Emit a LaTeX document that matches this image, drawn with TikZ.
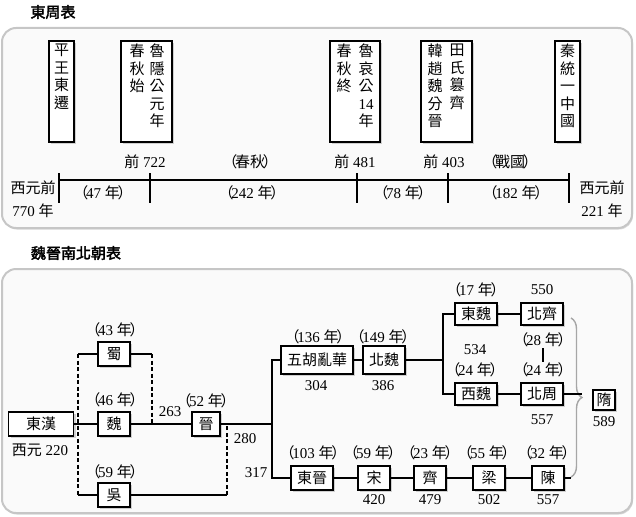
\documentclass[tikz,border=0pt]{standalone}
\usepackage{fontspec}
\usetikzlibrary{shadows,decorations.pathreplacing}
\setmainfont{Liberation Serif}
\newfontfamily\cjk{Noto Sans CJK TC}
\newfontfamily\cjkbold[FakeBold=2.5]{Noto Sans CJK TC}
\newcommand{\hanfont}{\cjk}

% Chinese characters go to the CJK font, digits stay in the serif
\XeTeXinterchartokenstate=1
\newXeTeXintercharclass\hanclass
\newcount\hancount
\hancount="4E00
\loop
  \XeTeXcharclass\hancount=\hanclass
  \advance\hancount by 1
\ifnum\hancount<"A000 \repeat
\XeTeXcharclass"FF08=\hanclass
\XeTeXcharclass"FF09=\hanclass
\XeTeXinterchartoks 0 \hanclass={\hanfont}
\XeTeXinterchartoks 4095 \hanclass={\hanfont}
\XeTeXinterchartoks \hanclass 0={\rmfamily}
\XeTeXinterchartoks \hanclass 4095={\rmfamily}

\newcommand{\paren}[1]{（\kern-.15em#1\kern-.15em）}
\newcommand{\yrs}[1]{\paren{#1 年}}
\newcommand{\titlefont}{\renewcommand{\hanfont}{\cjkbold}\fontsize{15}{18}\selectfont}

\tikzset{
  frame/.style={draw=gray!45, line width=2pt, fill=gray!4, rounded corners=14pt,
    drop shadow={shadow xshift=1pt, shadow yshift=-1.5pt, opacity=.3}},
  box/.style={draw, line width=1.4pt, fill=white, minimum width=32, minimum height=24,
    inner xsep=6pt, inner ysep=2pt,
    drop shadow={shadow xshift=2pt, shadow yshift=-2pt, opacity=.35}},
  vbox/.style={box, minimum height=101, inner sep=0pt},
  vtext/.style={anchor=north, align=center, inner sep=0pt},
  title/.style={font=\titlefont},
  link/.style={line width=2pt},
  dlink/.style={link, dash pattern=on 4pt off 2.5pt},
  axis/.style={line width=2.6pt},
  bigbrace/.style={decorate, decoration={brace, amplitude=11pt}, draw=gray!70, line width=1.4pt}
}

\begin{document}
\begin{tikzpicture}[x=1pt, y=-1pt,
  every node/.style={font=\fontsize{15}{17.5}\selectfont, inner sep=1pt}]
\useasboundingbox (0,0) rectangle (636,516);

% ---- east zhou ----
\node[title] (t1) at (53,12) {東周表};
\draw[frame] (2,28) rectangle (632,228);

\node[vbox, minimum width=25] (b1) at (61.5,91.5) {};
\node[vtext] (b1r) at (61.5,44) {平\\王\\東\\遷};
\node[vbox, minimum width=51] (b2) at (146.5,91.5) {};
\node[vtext] (b2r) at (157,44) {魯\\隱\\公\\元\\年};
\node[vtext] (b2l) at (137,44) {春\\秋\\始};
\node[vbox, minimum width=50] (b3) at (355,91.5) {};
\node[vtext] (b3r) at (366,44) {魯\\哀\\公\\14\\年};
\node[vtext] (b3l) at (344,44) {春\\秋\\終};
\node[vbox, minimum width=51] (b4) at (446.5,91.5) {};
\node[vtext] (b4r) at (457,44) {田\\氏\\篡\\齊};
\node[vtext] (b4l) at (435,44) {韓\\趙\\魏\\分\\晉};
\node[vbox, minimum width=25] (b5) at (567.5,91.5) {};
\node[vtext] (b5r) at (567.5,44) {秦\\統\\一\\中\\國};

% the time line
\foreach \x [count=\i] in {59,150,357,448,569}
  \coordinate (k\i) at (\x,180);
\draw[axis] (k1) -- (k5);
\foreach \i in {1,...,5}
  \draw[axis] ([yshift=7pt]k\i) -- ([yshift=-23pt]k\i);

\node[align=center, font=\fontsize{15}{23}\selectfont] (s0) at (33,199) {西元前\\770 年};
\node[align=center, font=\fontsize{15}{23}\selectfont] (s5) at (602,199) {西元前\\221 年};
\node (d1) at (145,162) {前 722};
\node (d3) at (355,162) {前 481};
\node (d4) at (444,162) {前 403};
\node (era1) at (250,162) {\paren{春秋}};
\node (era2) at (510,162) {\paren{戰國}};
\node (p1) at (103,193) {\yrs{47}};
\node (p2) at (252,193) {\yrs{242}};
\node (p3) at (403,193) {\yrs{78}};
\node (p4) at (516,193) {\yrs{182}};

% ---- wei jin nan bei chao ----
\node[title] (t2) at (76,253) {魏晉南北朝表};
\draw[frame] (2,269) rectangle (632,513);

\node[box, minimum width=65] (donghan) at (41,424) {東漢};
\node[box] (wei) at (114,424) {魏};
\node[box] (shu) at (114,354) {蜀};
\node[box] (wu) at (114,495) {吳};
\node[box, minimum width=28] (jin) at (206,424) {晉};
\node[box, minimum height=28] (wuhu) at (317,360) {五胡亂華};
\node[box, minimum height=28] (beiwei) at (384,360) {北魏};
\node[box, minimum height=22] (dongwei) at (476,314) {東魏};
\node[box, minimum height=22] (beiqi) at (542,314) {北齊};
\node[box, minimum height=22] (xiwei) at (476,394) {西魏};
\node[box, minimum height=22] (beizhou) at (542,394) {北周};
\node[box, minimum width=22, minimum height=20, inner xsep=3pt] (sui) at (604,400) {隋};
\node[box] (dongjin) at (312,478) {東晉};
\node[box] (song) at (374,478) {宋};
\node[box] (qi) at (430,478) {齊};
\node[box] (liang) at (489,478) {梁};
\node[box] (chen) at (548,478) {陳};

% years and dates
\node (n220) at (40,450) {西元 220};
\node (y43) at (115,330) {\yrs{43}};
\node (y46) at (115,400) {\yrs{46}};
\node (y59a) at (115,472) {\yrs{59}};
\node (n263) at (170,412) {263};
\node (y52) at (206,401) {\yrs{52}};
\node (n280) at (245,439) {280};
\node (n317) at (256,473) {317};
\node (y136) at (318,337) {\yrs{136}};
\node (n304) at (316,386) {304};
\node (y149) at (383,337) {\yrs{149}};
\node (n386) at (383,386) {386};
\node (y17) at (476,290) {\yrs{17}};
\node (n550) at (542,290) {550};
\node (n534) at (475,350) {534};
\node (y24a) at (475,370) {\yrs{24}};
\node (y28) at (543,340) {\yrs{28}};
\node (y24b) at (543,370) {\yrs{24}};
\node (n557a) at (542,420) {557};
\node (n589) at (604,422) {589};
\node (y103) at (313,453) {\yrs{103}};
\node (y59b) at (373,453) {\yrs{59}};
\node (y23) at (430,453) {\yrs{23}};
\node (y55) at (487,453) {\yrs{55}};
\node (y32) at (547,453) {\yrs{32}};
\node (n420) at (374,500) {420};
\node (n479) at (430,500) {479};
\node (n502) at (489,500) {502};
\node (n557b) at (548,500) {557};

% three kingdoms
\draw[link] (donghan) -- (wei);
\draw[link] (shu.west) -- ++(-19,0) coordinate (shuL);
\draw[link] (wu.west) -- ++(-19,0) coordinate (wuL);
\draw[dlink] (shuL) -- (wuL);
\draw[link] (shu.east) -- ++(21,0) coordinate (shuR);
\draw[dlink] (shuR) -- (shuR |- wei.east);
\draw[link] (wei) -- (jin);
\draw[link] (wu.east) -- ++(96,0) coordinate (wuR);
\draw[dlink] (wuR) -- (wuR |- jin.east);

% north and south
\coordinate (split1) at (272,424);
\draw[link] (jin) -- (split1);
\draw[link] (wuhu.west) -| (split1) |- (dongjin.west);
\draw[link] (wuhu) -- (beiwei);
\coordinate (split2) at (443,360);
\draw[link] (beiwei) -- (split2);
\draw[link] (dongwei.west) -| (split2) |- (xiwei.west);
\draw[link] (dongwei) -- (beiqi);
\draw[link] (xiwei) -- (beizhou);
\draw[link] (y28) -- (y24b);
\draw[link] (dongjin) -- (song) -- (qi) -- (liang) -- (chen);

% brace to sui
\coordinate (braceT) at (571,318);
\coordinate (braceB) at (571,477);
\coordinate (tip) at (582,397);
\draw[bigbrace] (braceT) -- (braceB);
\draw[link] (beizhou) -- (beizhou -| tip);
\draw[link] (chen) -- (chen -| braceB);

\end{tikzpicture}
\end{document}
